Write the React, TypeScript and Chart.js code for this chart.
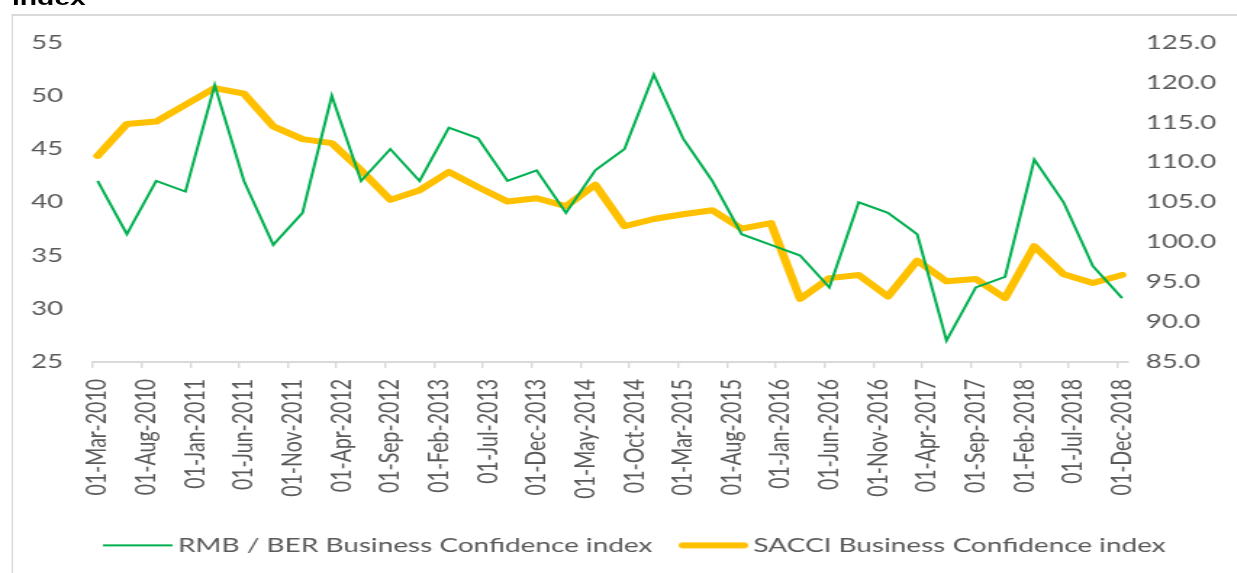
import React, { useEffect, useRef } from 'react';
import { Chart, registerables } from 'chart.js';

Chart.register(...registerables);

// Quarter-end observation months
const quarterDates = [
  '2010-03', '2010-06', '2010-09', '2010-12',
  '2011-03', '2011-06', '2011-09', '2011-12',
  '2012-03', '2012-06', '2012-09', '2012-12',
  '2013-03', '2013-06', '2013-09', '2013-12',
  '2014-03', '2014-06', '2014-09', '2014-12',
  '2015-03', '2015-06', '2015-09', '2015-12',
  '2016-03', '2016-06', '2016-09', '2016-12',
  '2017-03', '2017-06', '2017-09', '2017-12',
  '2018-03', '2018-06', '2018-09', '2018-12',
];

const rmbBerIndex = [
  42, 37, 42, 41, 51, 42, 36, 39, 50, 42, 45, 42,
  47, 46, 42, 43, 39, 43, 45, 52, 46, 42, 37, 36,
  35, 32, 40, 39, 37, 27, 32, 33, 44, 40, 34, 31,
];

const sacciIndex = [
  110.8, 114.8, 115.1, 117.2, 119.3, 118.6, 114.5, 112.9, 112.4, 109.0, 105.3, 106.5,
  108.8, 106.9, 105.1, 105.5, 104.5, 107.2, 102.0, 102.9, 103.5, 104.0, 101.7, 102.4,
  92.9, 95.5, 95.9, 93.2, 97.7, 95.1, 95.4, 93.0, 99.5, 96.0, 94.9, 95.9,
];

const xTickLabels = [
  '01-Mar-2010', '01-Aug-2010', '01-Jan-2011', '01-Jun-2011', '01-Nov-2011',
  '01-Apr-2012', '01-Sep-2012', '01-Feb-2013', '01-Jul-2013', '01-Dec-2013',
  '01-May-2014', '01-Oct-2014', '01-Mar-2015', '01-Aug-2015', '01-Jan-2016',
  '01-Jun-2016', '01-Nov-2016', '01-Apr-2017', '01-Sep-2017', '01-Feb-2018',
  '01-Jul-2018', '01-Dec-2018',
];

const seriesLabels = ['RMB / BER Business Confidence index', 'SACCI Business Confidence index'];

const S = 1.45; // horizontal stretch of the original picture
const CW = 881;
const CH = 565;
const PLOT_LEFT = 92.7 / S;
const PLOT_RIGHT = 1127 / S;
const PLOT_TOP = 42.5;
const PLOT_BOTTOM = 362;

function monthOffset(d: string): number {
  const [y, m] = d.split('-').map(Number);
  return (y - 2010) * 12 + (m - 3);
}

function swatch(color: string, width: number, round: boolean): HTMLCanvasElement {
  const c = document.createElement('canvas');
  c.width = 48;
  c.height = 10;
  const ctx = c.getContext('2d')!;
  ctx.strokeStyle = color;
  ctx.lineWidth = width;
  ctx.lineCap = round ? 'round' : 'butt';
  ctx.beginPath();
  const inset = round ? width / 2 : 0;
  ctx.moveTo(inset, 5);
  ctx.lineTo(48 - inset, 5);
  ctx.stroke();
  return c;
}

export default function App() {
  const ref = useRef<HTMLCanvasElement>(null);

  useEffect(() => {
    const swatches = [swatch('#00B050', 2, false), swatch('#FFC000', 6, true)];
    const tickFont = { family: 'Lato', size: 19 };
    const chart = new Chart(ref.current!, {
      type: 'line',
      data: {
        datasets: [
          {
            label: seriesLabels[0],
            data: quarterDates.map((d, i) => ({ x: monthOffset(d) + 0.5, y: rmbBerIndex[i] })),
            borderColor: '#00B050',
            backgroundColor: '#00B050',
            borderWidth: 2,
            pointRadius: 0,
            tension: 0,
            yAxisID: 'y',
          },
          {
            label: seriesLabels[1],
            data: quarterDates.map((d, i) => ({ x: monthOffset(d) + 0.5, y: sacciIndex[i] })),
            borderColor: '#FFC000',
            backgroundColor: '#FFC000',
            borderWidth: 6,
            borderJoinStyle: 'round',
            borderCapStyle: 'round',
            pointRadius: 0,
            tension: 0,
            yAxisID: 'y1',
          },
        ],
      },
      options: {
        responsive: false,
        animation: false,
        devicePixelRatio: 1,
        layout: { padding: { top: PLOT_TOP, left: 0, right: 0, bottom: 0 } },
        plugins: {
          tooltip: { enabled: false },
          legend: {
            position: 'bottom',
            labels: {
              usePointStyle: true,
              pointStyleWidth: 36,
              padding: 24,
              color: '#595959',
              font: { family: 'Lato', size: 19.3 },
              generateLabels: (c: any) =>
                (Chart.defaults.plugins.legend.labels as any)
                  .generateLabels(c)
                  .map((it: any, i: number) => ({ ...it, pointStyle: swatches[i] })),
            },
          },
        },
        scales: {
          x: {
            type: 'linear',
            min: 0,
            max: 106,
            afterFit: (s: any) => {
              const lh = s.chart.legend ? s.chart.legend.height : 0;
              s.height = CH - PLOT_BOTTOM - lh;
            },
            border: { display: true, color: '#d9d9d9', width: 2 },
            grid: { display: true, drawOnChartArea: false, drawTicks: true, tickLength: 6, color: '#d9d9d9', lineWidth: 1.4 },
            ticks: {
              stepSize: 5,
              includeBounds: false,
              autoSkip: false,
              maxRotation: 90,
              minRotation: 90,
              padding: 11,
              labelOffset: 3.2,
              color: '#595959',
              font: { family: 'Lato', size: 19.5 },
              callback: (v: any) => {
                const idx = Math.round(Number(v) / 5);
                return Number(v) % 5 === 0 ? xTickLabels[idx] : '';
              },
            },
          },
          y: {
            position: 'left',
            min: 25,
            max: 55,
            afterFit: (s: any) => { s.width = PLOT_LEFT; },
            border: { display: false },
            grid: { display: false, drawTicks: false },
            ticks: { stepSize: 5, padding: 20.4, color: '#595959', font: tickFont },
          },
          y1: {
            position: 'right',
            min: 85,
            max: 125,
            afterFit: (s: any) => { s.width = CW - PLOT_RIGHT; },
            border: { display: false },
            grid: { display: false, drawTicks: false },
            ticks: {
              stepSize: 5,
              padding: 13,
              color: '#595959',
              font: tickFont,
              callback: (v: any) => Number(v).toFixed(1),
            },
          },
        },
      },
    } as any);
    return () => chart.destroy();
  }, []);

  return (
    <div style={{ position: 'absolute', left: 0, top: 0, width: 1237, height: 573, overflow: 'hidden', background: '#fff' }}>
      <div style={{ position: 'absolute', left: 0, top: 0, width: CW, height: 573, transform: `scaleX(${S})`, transformOrigin: '0 0' }}>
        <div
          style={{
            position: 'absolute',
            left: 12 / S,
            top: -12,
            fontFamily: '"Liberation Sans", Arial, sans-serif',
            fontWeight: 'bold',
            fontSize: 19.5,
            lineHeight: '20px',
            color: '#000',
            whiteSpace: 'nowrap',
          }}
        >
          index
        </div>
        <div
          style={{
            position: 'absolute',
            left: 11.5 / S,
            top: 13.5,
            width: CW,
            height: 700,
            borderTop: '2px solid #d9d9d9',
            borderLeft: '1.4px solid #d9d9d9',
          }}
        />
        <canvas ref={ref} width={CW} height={CH} style={{ position: 'absolute', left: 0, top: 0 }} />
      </div>
    </div>
  );
}
